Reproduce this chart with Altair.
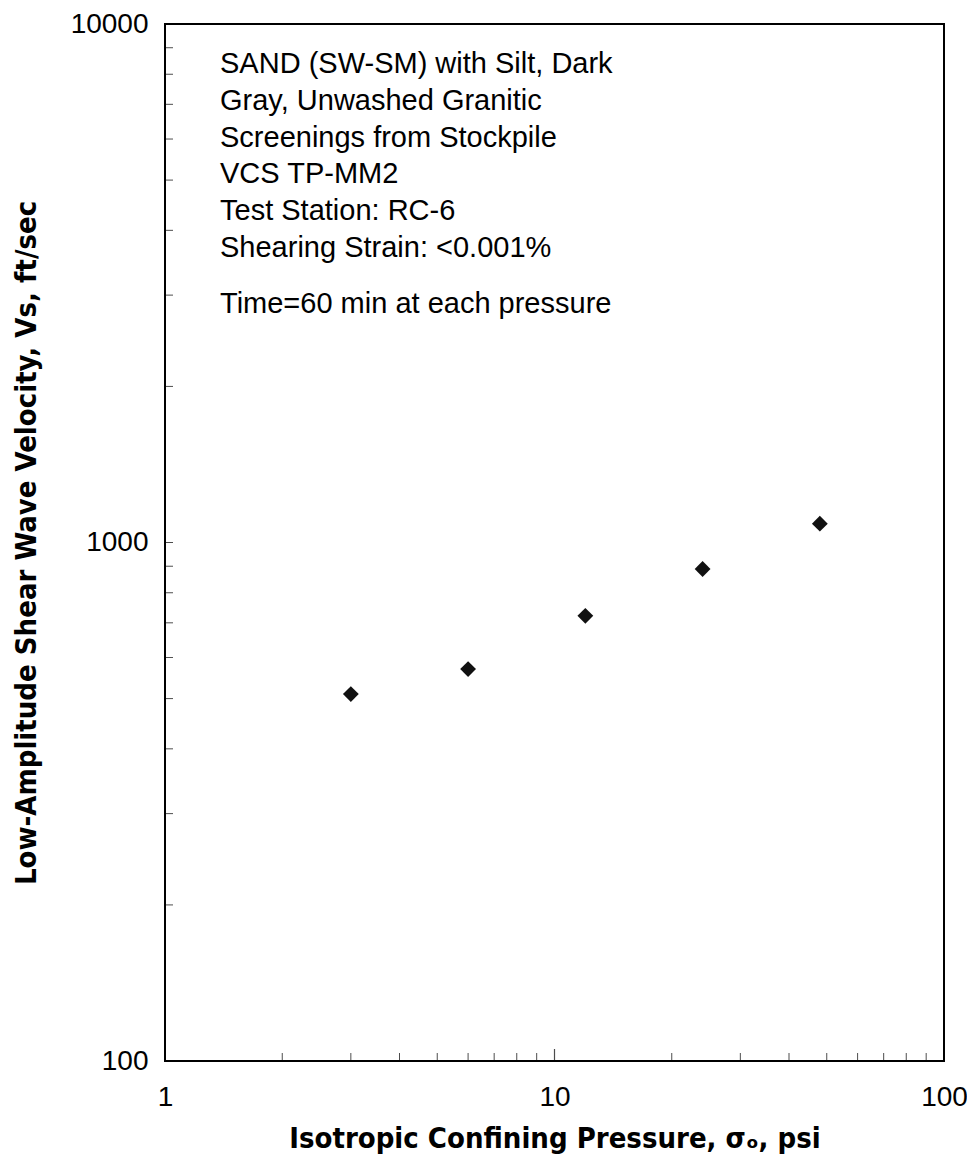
import altair as alt
import pandas as pd

# Data
pressure = [3, 6, 12, 24, 48]
velocity = [510, 570, 722, 889, 1087]

x_major = [1, 10, 100]
y_major = [100, 1000, 10000]
x_minor = [2, 3, 4, 5, 6, 7, 8, 9, 20, 30, 40, 50, 60, 70, 80, 90]
y_minor = [200, 300, 400, 500, 600, 700, 800, 900,
           2000, 3000, 4000, 5000, 6000, 7000, 8000, 9000]

note_lines = [
    "SAND (SW-SM) with Silt, Dark",
    "Gray, Unwashed Granitic",
    "Screenings from Stockpile",
    "VCS TP-MM2",
    "Test Station: RC-6",
    "Shearing Strain: <0.001%",
]
note_time = "Time=60 min at each pressure"

x_title = "Isotropic Confining Pressure, σₒ, psi"
y_title = "Low-Amplitude Shear Wave Velocity, Vs, ft/sec"

W, H = 779, 1037
TITLE_FONT = "Liberation Sans Narrow, DejaVu Sans Condensed, Arial Narrow, sans-serif"
LABEL_FONT = "Liberation Sans, Arial, sans-serif"

df = pd.DataFrame({"p": pressure, "v": velocity})

xscale = alt.Scale(type="log", domain=[1, 100], nice=False)
yscale = alt.Scale(type="log", domain=[100, 10000], nice=False)

x_axis = alt.Axis(
    values=x_major, format="d", ticks=False, tickSize=0, domain=False,
    grid=False, labelFlush=False, labelOverlap=False, labelBound=False,
    labelPadding=22, labelBaseline="top",
    title=x_title, titleX=W / 2, titleY=86, titleAlign="center",
    titleBaseline="alphabetic",
)
y_axis = alt.Axis(
    values=y_major, format="d", ticks=False, tickSize=0, domain=False,
    grid=False, labelFlush=False, labelOverlap=False, labelBound=False,
    labelPadding=17,
    title=y_title, titleX=-139, titleY=H / 2, titleAngle=270,
    titleAlign="center", titleBaseline="middle",
)

points = alt.Chart(df).mark_point(
    shape="diamond", filled=True, size=250, color="#111111", opacity=1
).encode(
    x=alt.X("p:Q", scale=xscale, axis=x_axis),
    y=alt.Y("v:Q", scale=yscale, axis=y_axis),
)

xticks = alt.Chart(pd.DataFrame({"p": x_minor})).mark_tick(
    orient="vertical", size=8, thickness=1, color="black"
).encode(
    x=alt.X("p:Q", scale=xscale, axis=x_axis),
    y=alt.value(H - 4),
)

xmajor_ticks = alt.Chart(pd.DataFrame({"p": [10]})).mark_tick(
    orient="vertical", size=12, thickness=1.2, color="black"
).encode(
    x=alt.X("p:Q", scale=xscale, axis=x_axis),
    y=alt.value(H - 6),
)

yticks = alt.Chart(pd.DataFrame({"v": y_minor + [1000]})).mark_tick(
    orient="horizontal", size=8, thickness=1, color="black"
).encode(
    y=alt.Y("v:Q", scale=yscale, axis=y_axis),
    x=alt.value(4),
)

note = alt.Chart(pd.DataFrame({"a": [0]})).mark_text(
    text=note_lines, align="left", baseline="alphabetic",
    font=LABEL_FONT, fontSize=29, lineHeight=36.8, color="black"
).encode(x=alt.value(55), y=alt.value(49))

note2 = alt.Chart(pd.DataFrame({"a": [0]})).mark_text(
    text=note_time, align="left", baseline="alphabetic",
    font=LABEL_FONT, fontSize=29, color="black"
).encode(x=alt.value(55), y=alt.value(289))

chart = alt.layer(points, xticks, xmajor_ticks, yticks, note, note2).properties(
    width=W, height=H,
    autosize=alt.AutoSizeParams(type="none"),
    padding={"left": 157, "top": 16, "right": 23, "bottom": 104},
    background="white",
).configure_view(
    stroke="black", strokeWidth=2, fill="white"
).configure_axis(
    labelFont=LABEL_FONT, labelFontSize=28, labelColor="black",
    titleFont=TITLE_FONT, titleFontSize=29, titleFontWeight="bold",
    titleColor="black",
)

chart.save("out.html", embed_options={"renderer": "svg", "actions": False})
